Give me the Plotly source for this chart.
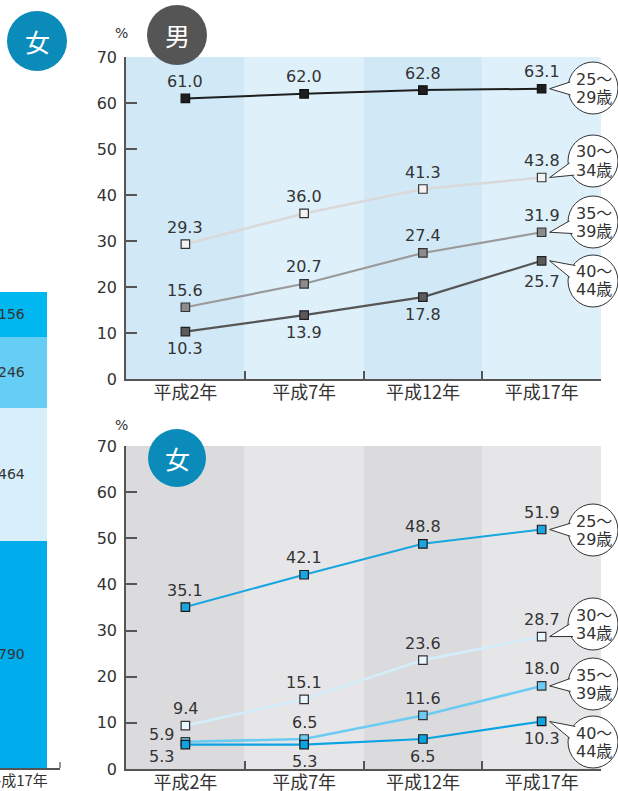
import math
import plotly.graph_objects as go

W, H = 618, 791
FONT = "DejaVu Sans, Noto Sans CJK JP"
JFONT = "Noto Sans CJK JP"
TXT = "#333333"

# ---------------- data ----------------
years = ["平成2年", "平成7年", "平成12年", "平成17年"]
age_line1 = ["25～", "30～", "35～", "40～"]
age_line2 = ["29歳", "34歳", "39歳", "44歳"]
y_ticks = [0, 10, 20, 30, 40, 50, 60, 70]

male_25_29 = [61.0, 62.0, 62.8, 63.1]
male_30_34 = [29.3, 36.0, 41.3, 43.8]
male_35_39 = [15.6, 20.7, 27.4, 31.9]
male_40_44 = [10.3, 13.9, 17.8, 25.7]

female_25_29 = [35.1, 42.1, 48.8, 51.9]
female_30_34 = [9.4, 15.1, 23.6, 28.7]
female_35_39 = [5.9, 6.5, 11.6, 18.0]
female_40_44 = [5.3, 5.3, 6.5, 10.3]

bar_category = ["平成17年"]
bar_values = [790, 464, 246, 156]
bar_labels = ["790", "464", "246", "156"]

# ---------------- layout geometry (pixels) ----------------
X0, X1 = 126, 601
TOP = dict(ytop=57, ybot=379, xa="x", ya="y")
BOT = dict(ytop=446, ybot=769, xa="x2", ya="y2")


def px(x):
    return x / W


def py(y):
    return 1 - y / H


def data_px(panel, i, v):
    x = X0 + (i + 0.5) * (X1 - X0) / 4
    y = panel["ybot"] - v / 70 * (panel["ybot"] - panel["ytop"])
    return x, y


male_series = [
    (male_25_29, dict(line="#1e1e1e", w=2.0, fill="#1e1e1e", edge="#111111")),
    (male_30_34, dict(line="#d9d9d9", w=2.6, fill="#f2f2f2", edge="#333333")),
    (male_35_39, dict(line="#9a9a9a", w=2.2, fill="#8c8c8c", edge="#333333")),
    (male_40_44, dict(line="#555555", w=2.2, fill="#5a5a5a", edge="#222222")),
]
female_series = [
    (female_25_29, dict(line="#17a6df", w=2.0, fill="#1aa7e0", edge="#1a1a1a")),
    (female_30_34, dict(line="#d3eefa", w=2.6, fill="#e8f6fd", edge="#333333")),
    (female_35_39, dict(line="#6ccbf2", w=2.6, fill="#6ccbf2", edge="#333333")),
    (female_40_44, dict(line="#0ba3e2", w=2.2, fill="#0ba3e2", edge="#1a1a1a")),
]

# label placement per series (style, not data)
male_pos = [["a"] * 4, ["a"] * 4, ["a"] * 4, ["b", "b", "b", "b2"]]
female_pos = [["a"] * 4, ["a"] * 4, ["la", "a", "a", "a"], ["lb", "b", "b", "b"]]
bubble_y_top = [88, 161, 222, 281]
bubble_y_bot = [530, 624, 684, 742]

fig = go.Figure()
shapes = []
annotations = []


def ann(**kw):
    d = dict(showarrow=False, xanchor="center", yanchor="middle")
    d.update(kw)
    annotations.append(d)


def add_panel(panel, series, positions, bubble_ys):
    xa, ya = panel["xa"], panel["ya"]
    for vals, st in series:
        fig.add_trace(go.Scatter(
            x=years, y=vals, mode="lines+markers", xaxis=xa, yaxis=ya,
            line=dict(color=st["line"], width=st["w"]),
            marker=dict(symbol="square", size=8.5, color=st["fill"],
                        line=dict(color=st["edge"], width=1.2)),
            showlegend=False, hoverinfo="skip", cliponaxis=False))
    for (vals, st), pos in zip(series, positions):
        for i, v in enumerate(vals):
            p = pos[i]
            xs, ys = 0, 17
            if p == "b":
                ys = -17
            elif p == "b2":
                ys = -21
            elif p == "la":
                xs, ys = -24, 7
            elif p == "lb":
                xs, ys = -24, -12
            ann(x=years[i], y=v, xref=xa, yref=ya, text=f"{v:.1f}",
                xshift=xs, yshift=ys,
                font=dict(family=FONT, size=16, color=TXT))
    # speech bubbles
    cx, r = 593, 25
    for k, ((vals, st), by) in enumerate(zip(series, bubble_ys)):
        tx, ty = data_px(panel, 3, vals[-1])
        tx += 8
        shapes.append(dict(type="circle", xref="paper", yref="paper",
                           x0=px(cx - r), x1=px(cx + r),
                           y0=py(by + r + 1), y1=py(by - r - 1),
                           fillcolor="white", line=dict(color="#333333", width=1),
                           layer="above"))
        ang = math.atan2(ty - by, tx - cx)
        pts = []
        for d in (-0.28, 0.28):
            pts.append((cx + (r - 1.5) * math.cos(ang + d), by + (r - 1.5) * math.sin(ang + d)))
        path = (f"M {px(pts[0][0])},{py(pts[0][1])} L {px(tx)},{py(ty)} "
                f"L {px(pts[1][0])},{py(pts[1][1])}")
        shapes.append(dict(type="path", xref="paper", yref="paper", path=path,
                           fillcolor="white", line=dict(color="#333333", width=1),
                           layer="above"))
        ann(x=px(cx + 1), y=py(by - 9), xref="paper", yref="paper",
            text=age_line1[k], font=dict(family=FONT, size=16, color=TXT))
        ann(x=px(cx + 1), y=py(by + 9), xref="paper", yref="paper",
            text=age_line2[k], font=dict(family=FONT, size=16, color=TXT))


# background column bands
top_bands = ["#d1e9f7", "#def0fa", "#d1e9f7", "#def0fa"]
bot_bands = ["#dbdbde", "#e6e6e8", "#dbdbde", "#e6e6e8"]
for i in range(4):
    shapes.append(dict(type="rect", xref="x", yref="y domain", x0=i - 0.5, x1=i + 0.5,
                       y0=0, y1=1, fillcolor=top_bands[i], line=dict(width=0), layer="below"))
    shapes.append(dict(type="rect", xref="x2", yref="y2 domain", x0=i - 0.5, x1=i + 0.5,
                       y0=0, y1=1, fillcolor=bot_bands[i], line=dict(width=0), layer="below"))

add_panel(TOP, male_series, male_pos, bubble_y_top)
add_panel(BOT, female_series, female_pos, bubble_y_bot)

# ---------------- partial stacked bar at left ----------------
bar_colors = ["#00adec", "#d8eefa", "#66cdf5", "#00b8ef"]
cum = 0
for v, lab, c in zip(bar_values, bar_labels, bar_colors):
    fig.add_trace(go.Bar(x=bar_category, y=[v], width=1, xaxis="x3", yaxis="y3",
                         marker=dict(color=c, line=dict(width=0)),
                         showlegend=False, hoverinfo="skip"))
    ann(x=px(12), y=cum + v / 2, xref="paper", yref="y3", text=lab,
        font=dict(family=FONT, size=14, color=TXT))
    cum += v
# end tick of the bar axis
shapes.append(dict(type="line", xref="x3 domain", yref="paper", x0=1, x1=1,
                   y0=py(768), y1=py(762), line=dict(color="#555555", width=1.2)))

# ---------------- circles with 男 / 女 ----------------
for (cx, cy, r, col, t) in [(37, 41, 30, "#0a8bb9", "女"),
                            (177, 35, 30, "#555555", "男"),
                            (177, 458, 29, "#0a8bb9", "女")]:
    shapes.append(dict(type="circle", xref="paper", yref="paper",
                       x0=px(cx - r), x1=px(cx + r), y0=py(cy + r), y1=py(cy - r),
                       fillcolor=col, line=dict(width=0), layer="above"))
    ann(x=px(cx), y=py(cy), xref="paper", yref="paper", text=t,
        font=dict(family=JFONT, size=25, color="white"))

# % unit labels
for yy in (33, 425):
    ann(x=px(121), y=py(yy), xref="paper", yref="paper", text="%",
        font=dict(family=FONT, size=14, color=TXT))

axis_common = dict(showgrid=False, zeroline=False, showline=True, linecolor="#555555",
                   linewidth=1.5, automargin=False)
xcommon = dict(axis_common, type="category", range=[-0.5, 3.5], tickson="boundaries",
               ticks="inside", ticklen=8, tickcolor="#555555", tickwidth=1.5,
               ticklabelstandoff=-3,
               tickfont=dict(family=JFONT, size=18, color=TXT),
               domain=[px(X0), px(X1)])
ycommon = dict(axis_common, range=[0, 70], tickvals=y_ticks, ticks="inside", ticklen=11,
               tickcolor="#555555", tickwidth=1.5, ticklabelstandoff=4,
               tickfont=dict(family=FONT, size=16, color=TXT))

fig.update_layout(
    width=W, height=H, margin=dict(l=0, r=0, t=0, b=0, autoexpand=False),
    paper_bgcolor="white", plot_bgcolor="rgba(0,0,0,0)",
    barmode="stack", bargap=0,
    xaxis=dict(xcommon, anchor="y"),
    yaxis=dict(ycommon, anchor="x", domain=[py(379), py(57)]),
    xaxis2=dict(xcommon, anchor="y2"),
    yaxis2=dict(ycommon, anchor="x2", domain=[py(769), py(446)]),
    xaxis3=dict(axis_common, type="category", anchor="y3", domain=[0, px(60)],
                range=[-0.2833, 0.7167], ticks="", ticklabelstandoff=-2,
                tickfont=dict(family=JFONT, size=15, color=TXT)),
    yaxis3=dict(anchor="x3", domain=[py(768), 1], range=[0, 2672], visible=False,
                automargin=False),
    shapes=shapes, annotations=annotations, showlegend=False,
)

fig.write_html("out.html", config={"displayModeBar": False},
               post_script="document.body.style.margin='0px';"
                           "document.body.style.overflow='hidden';")
